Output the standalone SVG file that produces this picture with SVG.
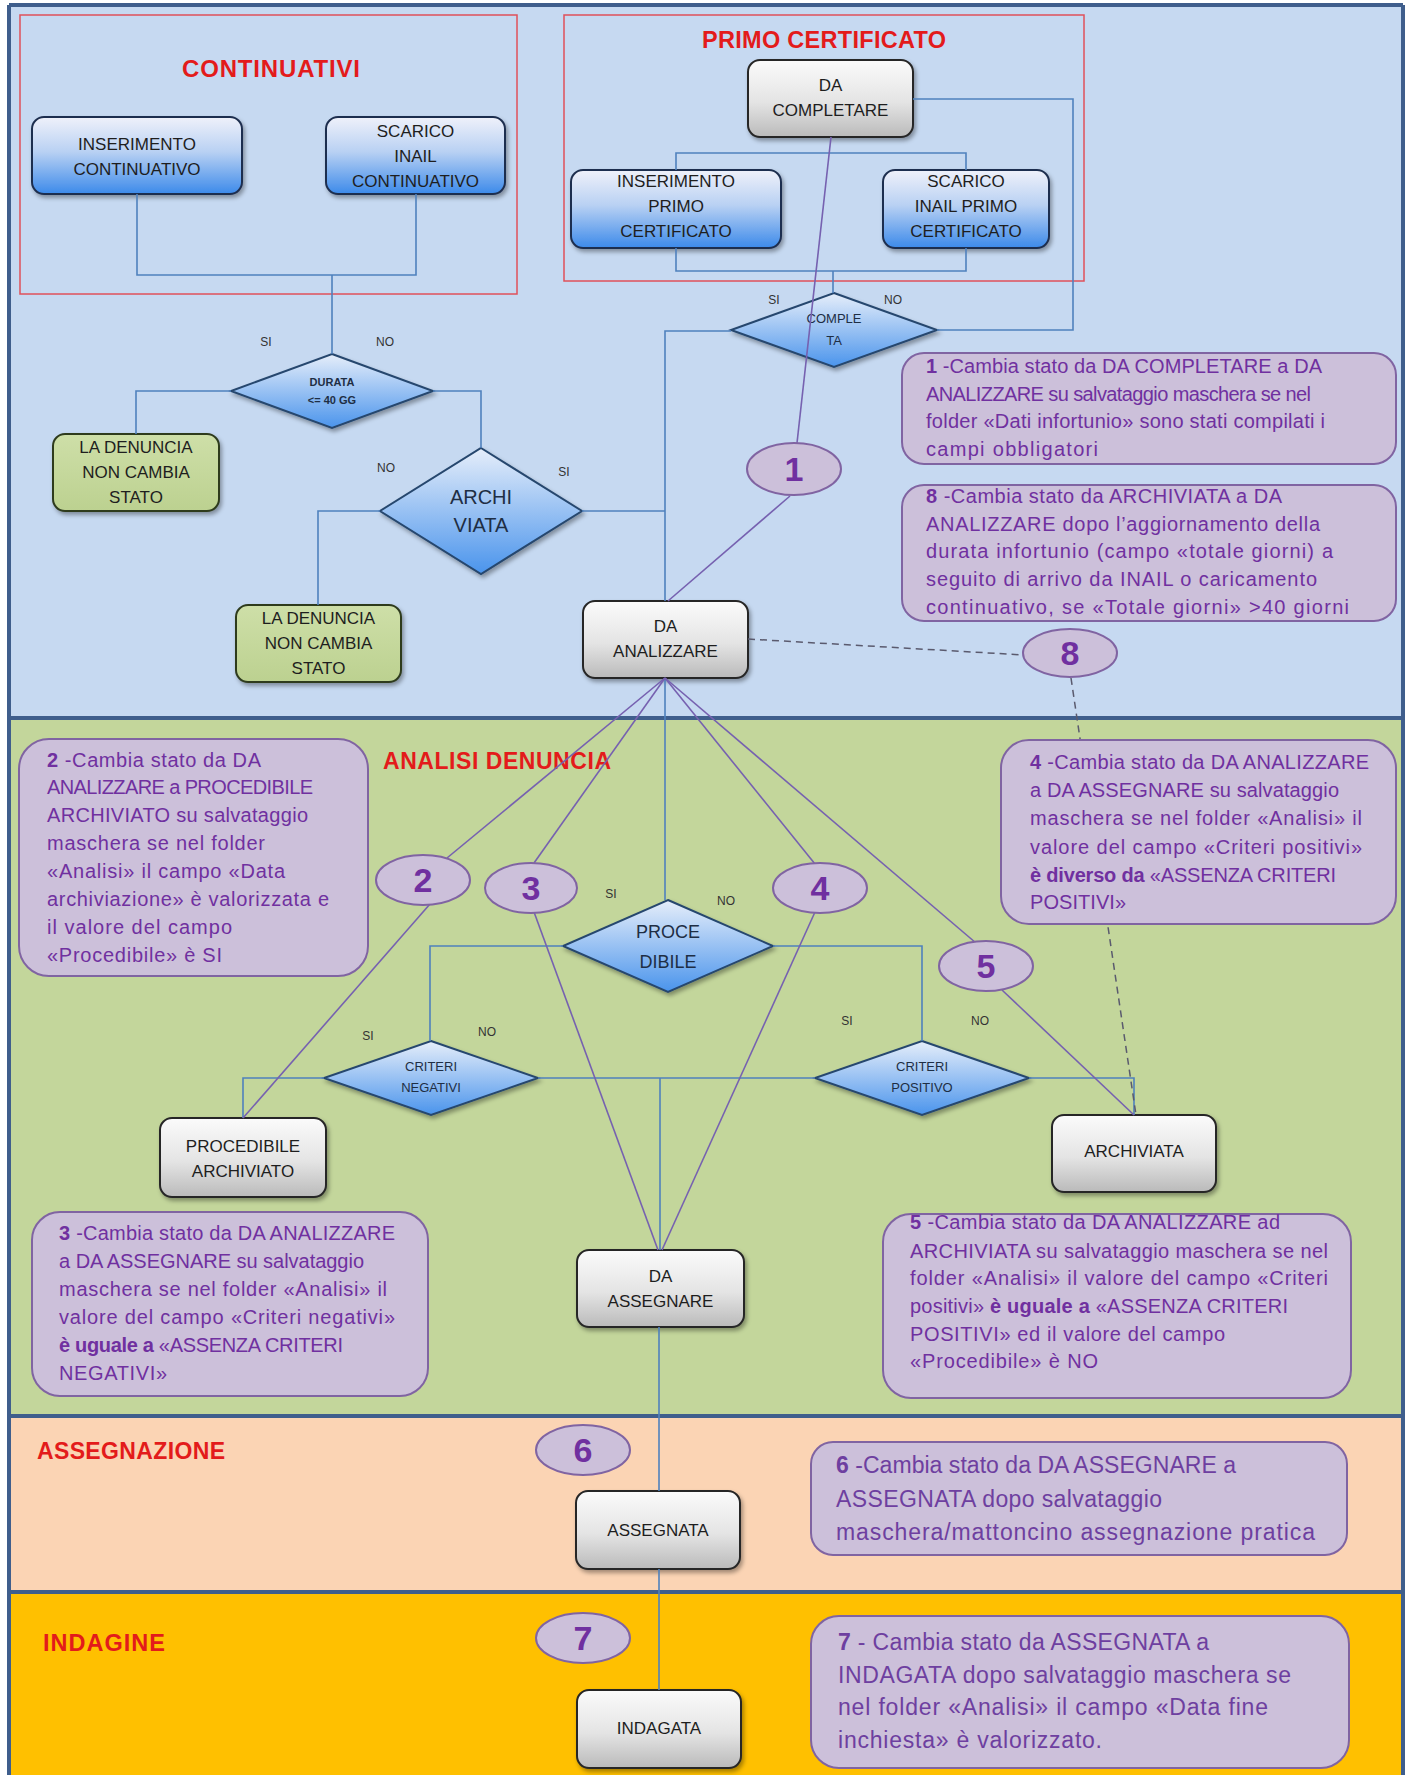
<svg xmlns="http://www.w3.org/2000/svg" width="1413" height="1775" viewBox="0 0 1413 1775">
<defs>
<linearGradient id="gGrey" x1="0" y1="0" x2="0" y2="1"><stop offset="0" stop-color="#FBFBFB"/><stop offset="0.55" stop-color="#E4E4E4"/><stop offset="1" stop-color="#BABABA"/></linearGradient>
<linearGradient id="gBlue" x1="0" y1="0" x2="0" y2="1"><stop offset="0" stop-color="#EFF1FA"/><stop offset="0.45" stop-color="#B9D1F3"/><stop offset="1" stop-color="#3C8AEA"/></linearGradient>
<linearGradient id="gDia" x1="0" y1="0" x2="0" y2="1"><stop offset="0" stop-color="#E6EEFA"/><stop offset="1" stop-color="#4A94EC"/></linearGradient>
<linearGradient id="gGreen" x1="0" y1="0" x2="0" y2="1"><stop offset="0" stop-color="#CEDFA8"/><stop offset="1" stop-color="#BCD190"/></linearGradient>
<filter id="sh" x="-10%" y="-10%" width="130%" height="145%"><feDropShadow dx="2" dy="3" stdDeviation="2" flood-color="#000" flood-opacity="0.35"/></filter>
</defs>
<style>
.bl{stroke:#3F5E8C;stroke-width:4;fill:none}
.frame{fill:none;stroke:#E0505A;stroke-width:1.5}
.title{font-family:"Liberation Sans",Arial,sans-serif;font-weight:bold;fill:#E31B1B}
.ln{fill:none;stroke:#4F81BD;stroke-width:1.6}
.pl{fill:none;stroke:#7661B0;stroke-width:1.6}
.dl{fill:none;stroke:#5A5A6E;stroke-width:1.5;stroke-dasharray:7 5}
.grey rect{fill:url(#gGrey);stroke:#262626;stroke-width:2;filter:url(#sh)}
.blue rect{fill:url(#gBlue);stroke:#1F2F4F;stroke-width:2;filter:url(#sh)}
.green rect{fill:url(#gGreen);stroke:#2E3B1F;stroke-width:2;filter:url(#sh)}
.dia polygon{fill:url(#gDia);stroke:#26476E;stroke-width:2;filter:url(#sh)}
.nt{font-family:"Liberation Sans",Arial,sans-serif;font-size:17px;fill:#1E1E1E;text-anchor:middle}
.dt{font-family:"Liberation Sans",Arial,sans-serif;fill:#1E2E44;text-anchor:middle}
.note rect{fill:#CCC0DA;stroke:#8064A2;stroke-width:2}
.ntx{font-family:"Liberation Sans",Arial,sans-serif;font-size:20px;fill:#7030A0}
.ntx2{font-family:"Liberation Sans",Arial,sans-serif;font-size:23px;fill:#6E3FA0}
.circ ellipse{fill:#CCC0DA;stroke:#8064A2;stroke-width:2}
.num{font-family:"Liberation Sans",Arial,sans-serif;font-size:34px;font-weight:bold;fill:#7030A0;text-anchor:middle}
.lbl{font-family:"Liberation Sans",Arial,sans-serif;font-size:12px;fill:#333;text-anchor:middle}
.b{font-weight:bold}
</style>

<!-- bands -->
<g id="bands">
<rect x="9" y="5" width="1394" height="713" fill="#C6D9F1"/>
<rect x="9" y="718" width="1394" height="698" fill="#C3D69B"/>
<rect x="9" y="1416" width="1394" height="176" fill="#FBD4B4"/>
<rect x="9" y="1592" width="1394" height="183" fill="#FFC000"/>
<path class="bl" d="M9 5H1403M9 718H1403M9 1416H1403M9 1592H1403M9 5V1775M1403 5V1775"/>
</g>

<g id="frames">
<rect class="frame" x="20" y="15" width="497" height="279"/>
<rect class="frame" x="564" y="15" width="520" height="266"/>
</g>

<g id="titles">
<text class="title" x="182" y="77" font-size="24" textLength="178">CONTINUATIVI</text>
<text class="title" x="702" y="48" font-size="23.5" textLength="244">PRIMO CERTIFICATO</text>
<text class="title" x="383" y="769" font-size="23" textLength="228">ANALISI DENUNCIA</text>
<text class="title" x="37" y="1459" font-size="23" textLength="188">ASSEGNAZIONE</text>
<text class="title" x="43" y="1651" font-size="23.5" textLength="122">INDAGINE</text>
</g>

<!-- nodes -->
<g id="n-ins-cont" class="blue"><rect x="32" y="117" width="210" height="77" rx="12"/><text class="nt" x="137" y="150">INSERIMENTO</text><text class="nt" x="137" y="175">CONTINUATIVO</text></g>
<g id="n-scar-cont" class="blue"><rect x="326" y="117" width="179" height="77" rx="12"/><text class="nt" x="415.5" y="137">SCARICO</text><text class="nt" x="415.5" y="162">INAIL</text><text class="nt" x="415.5" y="187">CONTINUATIVO</text></g>
<g id="n-ins-primo" class="blue"><rect x="571" y="170" width="210" height="78" rx="12"/><text class="nt" x="676" y="187">INSERIMENTO</text><text class="nt" x="676" y="212">PRIMO</text><text class="nt" x="676" y="237">CERTIFICATO</text></g>
<g id="n-scar-primo" class="blue"><rect x="883" y="170" width="166" height="78" rx="12"/><text class="nt" x="966" y="187">SCARICO</text><text class="nt" x="966" y="212">INAIL PRIMO</text><text class="nt" x="966" y="237">CERTIFICATO</text></g>
<g id="n-da-completare" class="grey"><rect x="748" y="60" width="165" height="77" rx="12"/><text class="nt" x="830.5" y="91">DA</text><text class="nt" x="830.5" y="116">COMPLETARE</text></g>
<g id="n-da-analizzare" class="grey"><rect x="583" y="601" width="165" height="77" rx="12"/><text class="nt" x="665.5" y="632">DA</text><text class="nt" x="665.5" y="657">ANALIZZARE</text></g>
<g id="n-proc-arch" class="grey"><rect x="160" y="1118" width="166" height="79" rx="12"/><text class="nt" x="243" y="1152">PROCEDIBILE</text><text class="nt" x="243" y="1177">ARCHIVIATO</text></g>
<g id="n-archiviata" class="grey"><rect x="1052" y="1115" width="164" height="77" rx="12"/><text class="nt" x="1134" y="1157">ARCHIVIATA</text></g>
<g id="n-da-assegnare" class="grey"><rect x="577" y="1250" width="167" height="77" rx="12"/><text class="nt" x="660.5" y="1282">DA</text><text class="nt" x="660.5" y="1307">ASSEGNARE</text></g>
<g id="n-assegnata" class="grey"><rect x="576" y="1491" width="164" height="78" rx="12"/><text class="nt" x="658" y="1536" font-size="16">ASSEGNATA</text></g>
<g id="n-indagata" class="grey"><rect x="577" y="1690" width="164" height="78" rx="12"/><text class="nt" x="659" y="1734" font-size="16">INDAGATA</text></g>
<g id="n-non-cambia-1" class="green"><rect x="53" y="434" width="166" height="77" rx="12"/><text class="nt" x="136" y="453">LA DENUNCIA</text><text class="nt" x="136" y="478">NON CAMBIA</text><text class="nt" x="136" y="503">STATO</text></g>
<g id="n-non-cambia-2" class="green"><rect x="236" y="605" width="165" height="77" rx="12"/><text class="nt" x="318.5" y="624">LA DENUNCIA</text><text class="nt" x="318.5" y="649">NON CAMBIA</text><text class="nt" x="318.5" y="674">STATO</text></g>

<!-- decisions -->
<g id="d-durata" class="dia"><polygon points="332,354 433,391 332,428 231,391"/><text class="dt" x="332" y="386" font-size="11" font-weight="bold">DURATA</text><text class="dt" x="332" y="404" font-size="11" font-weight="bold">&lt;= 40 GG</text></g>
<g id="d-archiviata" class="dia"><polygon points="481,448 582,511 481,574 380,511"/><text class="dt" x="481" y="504" font-size="20">ARCHI</text><text class="dt" x="481" y="532" font-size="20">VIATA</text></g>
<g id="d-completa" class="dia"><polygon points="834,293 937,330 834,367 731,330"/><text class="dt" x="834" y="323" font-size="13">COMPLE</text><text class="dt" x="834" y="345" font-size="13">TA</text></g>
<g id="d-procedibile" class="dia"><polygon points="668,900 773,946 668,992 563,946"/><text class="dt" x="668" y="938" font-size="18">PROCE</text><text class="dt" x="668" y="968" font-size="18">DIBILE</text></g>
<g id="d-criteri-neg" class="dia"><polygon points="431,1041 538,1078 431,1115 324,1078"/><text class="dt" x="431" y="1071" font-size="13">CRITERI</text><text class="dt" x="431" y="1092" font-size="13">NEGATIVI</text></g>
<g id="d-criteri-pos" class="dia"><polygon points="922,1041 1029,1078 922,1115 815,1078"/><text class="dt" x="922" y="1071" font-size="13">CRITERI</text><text class="dt" x="922" y="1092" font-size="13">POSITIVO</text></g>

<!-- connectors -->
<g id="connectors">
<path class="ln" d="M137 194V275H416V194"/>
<path class="ln" d="M332 275V354"/>
<path class="ln" d="M231 391H136V434"/>
<path class="ln" d="M433 391H481V448"/>
<path class="ln" d="M380 511H318V605"/>
<path class="ln" d="M582 511H665"/>
<path class="ln" d="M665 601V331H731"/>
<path class="ln" d="M913 99H1073V330H937"/>
<path class="ln" d="M676 170V153H966V170"/>
<path class="ln" d="M676 248V271H966V248"/>
<path class="ln" d="M833 271V293"/>
<path class="ln" d="M665 678V900"/>
<path class="ln" d="M563 946H430V1041"/>
<path class="ln" d="M773 946H922V1041"/>
<path class="ln" d="M324 1078H243V1118"/>
<path class="ln" d="M538 1078H815"/>
<path class="ln" d="M660 1078V1250"/>
<path class="ln" d="M1029 1078H1134V1115"/>
<path class="ln" d="M659 1327V1491"/>
<path class="ln" d="M659 1569V1690"/>
<path class="pl" d="M831 137L797 443"/>
<path class="pl" d="M790 496L668 601"/>
<path class="pl" d="M665 678L447 858"/>
<path class="pl" d="M430 904L243 1118"/>
<path class="pl" d="M665 678L534 863"/>
<path class="pl" d="M534 912L658 1250"/>
<path class="pl" d="M665 678L815 864"/>
<path class="pl" d="M815 912L662 1250"/>
<path class="pl" d="M665 678L976 943"/>
<path class="pl" d="M1002 990L1134 1115"/>
<path class="dl" d="M748 639L1024 655"/>
<path class="dl" d="M1071 678L1136 1115"/>
</g>

<!-- branch labels -->
<g id="labels">
<text class="lbl" x="266" y="346">SI</text><text class="lbl" x="385" y="346">NO</text>
<text class="lbl" x="386" y="472">NO</text><text class="lbl" x="564" y="476">SI</text>
<text class="lbl" x="774" y="304">SI</text><text class="lbl" x="893" y="304">NO</text>
<text class="lbl" x="611" y="898">SI</text><text class="lbl" x="726" y="905">NO</text>
<text class="lbl" x="368" y="1040">SI</text><text class="lbl" x="487" y="1036">NO</text>
<text class="lbl" x="847" y="1025">SI</text><text class="lbl" x="980" y="1025">NO</text>
</g>

<!-- notes -->
<g id="note-1" class="note"><rect x="902" y="353" width="494" height="111" rx="22"/>
<text class="ntx" x="926" y="373" textLength="396"><tspan class="b">1</tspan> -Cambia stato da DA COMPLETARE a DA</text>
<text class="ntx" x="926" y="401" textLength="385">ANALIZZARE su salvataggio maschera se nel</text>
<text class="ntx" x="926" y="428" textLength="399">folder «Dati infortunio» sono stati compilati i</text>
<text class="ntx" x="926" y="456" textLength="172">campi obbligatori</text></g>
<g id="note-8" class="note"><rect x="902" y="485" width="494" height="136" rx="22"/>
<text class="ntx" x="926" y="503" textLength="356"><tspan class="b">8</tspan> -Cambia stato da ARCHIVIATA a DA</text>
<text class="ntx" x="926" y="531" textLength="394">ANALIZZARE dopo l’aggiornamento della</text>
<text class="ntx" x="926" y="558" textLength="407">durata infortunio (campo «totale giorni) a</text>
<text class="ntx" x="926" y="586" textLength="391">seguito di arrivo da INAIL o caricamento</text>
<text class="ntx" x="926" y="614" textLength="423">continuativo, se «Totale giorni»  &gt;40 giorni</text></g>
<g id="note-2" class="note"><rect x="19" y="739" width="349" height="237" rx="30"/>
<text class="ntx" x="47" y="767" textLength="214"><tspan class="b">2</tspan> -Cambia stato da DA</text>
<text class="ntx" x="47" y="794" textLength="266">ANALIZZARE a PROCEDIBILE</text>
<text class="ntx" x="47" y="822" textLength="261">ARCHIVIATO su salvataggio</text>
<text class="ntx" x="47" y="850" textLength="218">maschera se nel folder</text>
<text class="ntx" x="47" y="878" textLength="238">«Analisi» il campo «Data</text>
<text class="ntx" x="47" y="906" textLength="282">archiviazione» è valorizzata e</text>
<text class="ntx" x="47" y="934" textLength="185">il valore del campo</text>
<text class="ntx" x="47" y="962" textLength="175">«Procedibile» è SI</text></g>
<g id="note-4" class="note"><rect x="1001" y="740" width="395" height="184" rx="28"/>
<text class="ntx" x="1030" y="769" textLength="339"><tspan class="b">4</tspan> -Cambia stato da DA ANALIZZARE</text>
<text class="ntx" x="1030" y="797" textLength="309">a DA ASSEGNARE su salvataggio</text>
<text class="ntx" x="1030" y="825" textLength="332">maschera se nel folder «Analisi» il</text>
<text class="ntx" x="1030" y="854" textLength="332">valore del campo «Criteri positivi»</text>
<text class="ntx" x="1030" y="882" textLength="306"><tspan class="b">è diverso da</tspan> «ASSENZA CRITERI</text>
<text class="ntx" x="1030" y="909" textLength="96">POSITIVI»</text></g>
<g id="note-3" class="note"><rect x="32" y="1212" width="396" height="184" rx="28"/>
<text class="ntx" x="59" y="1240" textLength="336"><tspan class="b">3</tspan> -Cambia stato da DA ANALIZZARE</text>
<text class="ntx" x="59" y="1268" textLength="305">a DA ASSEGNARE su salvataggio</text>
<text class="ntx" x="59" y="1296" textLength="328">maschera se nel folder «Analisi» il</text>
<text class="ntx" x="59" y="1324" textLength="336">valore del campo «Criteri negativi»</text>
<text class="ntx" x="59" y="1352" textLength="284"><tspan class="b">è uguale a</tspan> «ASSENZA CRITERI</text>
<text class="ntx" x="59" y="1380" textLength="108">NEGATIVI»</text></g>
<g id="note-5" class="note"><rect x="883" y="1214" width="468" height="184" rx="28"/>
<text class="ntx" x="910" y="1229" textLength="370"><tspan class="b">5</tspan> -Cambia stato da DA ANALIZZARE ad</text>
<text class="ntx" x="910" y="1258" textLength="418">ARCHIVIATA su salvataggio maschera se nel</text>
<text class="ntx" x="910" y="1285" textLength="418">folder «Analisi» il valore del campo «Criteri</text>
<text class="ntx" x="910" y="1313" textLength="378">positivi» <tspan class="b">è uguale a</tspan>  «ASSENZA CRITERI</text>
<text class="ntx" x="910" y="1341" textLength="315">POSITIVI» ed il valore del campo</text>
<text class="ntx" x="910" y="1368" textLength="188">«Procedibile» è NO</text></g>
<g id="note-6" class="note"><rect x="811" y="1442" width="536" height="113" rx="22"/>
<text class="ntx2" x="836" y="1473" textLength="400"><tspan class="b">6</tspan> -Cambia stato da DA ASSEGNARE a</text>
<text class="ntx2" x="836" y="1507" textLength="326">ASSEGNATA dopo salvataggio</text>
<text class="ntx2" x="836" y="1540" textLength="479">maschera/mattoncino assegnazione pratica</text></g>
<g id="note-7" class="note"><rect x="811" y="1616" width="538" height="152" rx="28"/>
<text class="ntx2" x="838" y="1650" textLength="371"><tspan class="b">7</tspan> - Cambia stato da ASSEGNATA a</text>
<text class="ntx2" x="838" y="1683" textLength="453">INDAGATA dopo salvataggio maschera se</text>
<text class="ntx2" x="838" y="1715" textLength="430">nel folder «Analisi» il campo «Data fine</text>
<text class="ntx2" x="838" y="1748" textLength="264">inchiesta» è valorizzato.</text></g>

<!-- numbered markers -->
<g id="c1" class="circ"><ellipse cx="794" cy="469" rx="47" ry="26"/><text class="num" x="794" y="481">1</text></g>
<g id="c2" class="circ"><ellipse cx="423" cy="880" rx="47" ry="25"/><text class="num" x="423" y="892">2</text></g>
<g id="c3" class="circ"><ellipse cx="531" cy="888" rx="46" ry="25"/><text class="num" x="531" y="900">3</text></g>
<g id="c4" class="circ"><ellipse cx="820" cy="888" rx="47" ry="25"/><text class="num" x="820" y="900">4</text></g>
<g id="c5" class="circ"><ellipse cx="986" cy="966" rx="47" ry="25"/><text class="num" x="986" y="978">5</text></g>
<g id="c8" class="circ"><ellipse cx="1070" cy="653" rx="47" ry="24"/><text class="num" x="1070" y="665">8</text></g>
<g id="c6" class="circ"><ellipse cx="583" cy="1450" rx="47" ry="25"/><text class="num" x="583" y="1462">6</text></g>
<g id="c7" class="circ"><ellipse cx="583" cy="1638" rx="47" ry="25"/><text class="num" x="583" y="1650">7</text></g>
</svg>
